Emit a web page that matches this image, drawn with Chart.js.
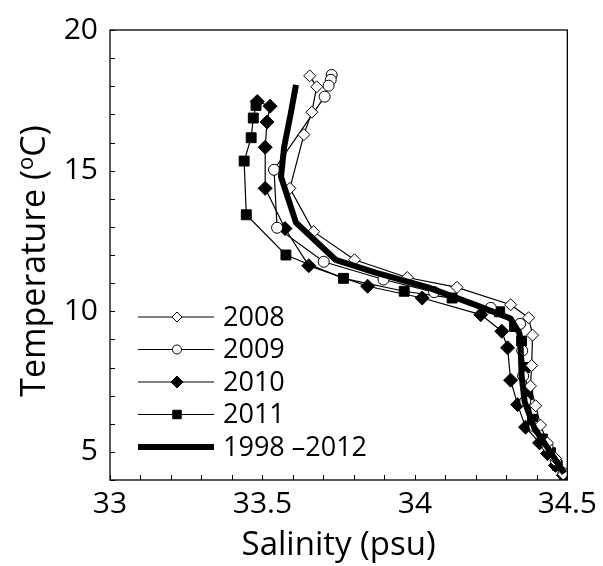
<!DOCTYPE html>
<html>
<head>
<meta charset="utf-8">
<script src="https://cdn.jsdelivr.net/npm/chart.js@4"></script>
<style>
  html, body { margin: 0; padding: 0; background: #fff; }
  #wrap { width: 603px; height: 566px; }
</style>
</head>
<body>
<div id="wrap"><canvas id="tsChart" width="603" height="566"></canvas></div>
<script>
// T-S profiles, salinity (psu) vs temperature (oC)
const sal2008 = [33.655, 33.678, 33.662, 33.636, 33.590, 33.668, 33.802, 33.975, 34.138, 34.314, 34.373, 34.386, 34.383, 34.379, 34.396, 34.412, 34.435, 34.461, 34.487];
const temp2008 = [18.37, 17.98, 17.08, 16.28, 14.37, 12.83, 11.83, 11.20, 10.85, 10.23, 9.77, 9.15, 8.07, 7.34, 6.64, 5.95, 5.32, 4.77, 4.21];

const sal2009 = [33.727, 33.724, 33.717, 33.704, 33.538, 33.548, 33.701, 33.897, 34.063, 34.249, 34.345, 34.352, 34.355, 34.362, 34.392, 34.435, 34.462, 34.487];
const temp2009 = [18.40, 18.23, 18.02, 17.63, 15.03, 12.97, 11.76, 11.13, 10.68, 10.12, 9.55, 8.60, 7.70, 6.80, 5.90, 5.20, 4.70, 4.24];

const sal2010 = [33.483, 33.525, 33.515, 33.509, 33.509, 33.574, 33.652, 33.845, 34.024, 34.216, 34.285, 34.304, 34.314, 34.337, 34.363, 34.409, 34.435, 34.461, 34.487];
const temp2010 = [17.46, 17.29, 16.73, 15.83, 14.37, 12.94, 11.62, 10.89, 10.47, 9.88, 9.29, 8.70, 7.55, 6.68, 5.88, 5.32, 4.94, 4.52, 4.17];

const sal2011 = [33.479, 33.470, 33.463, 33.440, 33.447, 33.577, 33.766, 33.965, 34.122, 34.278, 34.327, 34.350, 34.360, 34.370, 34.386, 34.418, 34.445, 34.467, 34.490];
const temp2011 = [17.32, 16.87, 16.17, 15.34, 13.43, 12.00, 11.17, 10.71, 10.47, 9.98, 9.46, 8.94, 8.00, 7.03, 6.16, 5.46, 4.97, 4.52, 4.14];

const salMean = [33.610, 33.593, 33.571, 33.561, 33.610, 33.740, 33.871, 34.043, 34.207, 34.314, 34.343, 34.347, 34.350, 34.360, 34.392, 34.435, 34.490];
const tempMean = [18.05, 17.04, 15.83, 14.78, 13.15, 11.83, 11.37, 10.85, 10.19, 9.74, 9.22, 8.70, 7.72, 6.78, 5.84, 5.15, 4.24];

const seriesNames = ['2008', '2009', '2010', '2011', '1998 \u20132012'];
const xLabelTicks = [33, 33.5, 34, 34.5];
const yLabelTicks = [5, 10, 15, 20];

const FONT = '"Open Sans", "DejaVu Sans", sans-serif';

function pairs(xs, ys) {
    return xs.map((x, i) => ({ x: x, y: ys[i] }));
}

function isLabelled(value, list) {
    return list.some(v => Math.abs(v - value) < 1e-6);
}

// thin profile lines with markers
function profile(label, sal, temp, style, radius, fill) {
    return {
        label: label,
        data: pairs(sal, temp),
        showLine: true,
        order: 1,
        borderColor: '#000',
        borderWidth: 1.2,
        pointStyle: style,
        pointRadius: radius,
        pointHoverRadius: radius,
        pointBackgroundColor: fill,
        pointBorderColor: '#000',
        pointBorderWidth: 1,
        legendRadius: radius - 1
    };
}

const datasets = [
    profile(seriesNames[0], sal2008, temp2008, 'rectRot', 6, '#fff'),
    profile(seriesNames[1], sal2009, temp2009, 'circle', 5.5, '#fff'),
    profile(seriesNames[2], sal2010, temp2010, 'rectRot', 7, '#000'),
    profile(seriesNames[3], sal2011, temp2011, 'rect', 7, '#000'),
    {
        // long-term mean, drawn over the yearly profiles
        label: seriesNames[4],
        data: pairs(salMean, tempMean),
        showLine: true,
        order: 0,
        borderColor: '#000',
        borderWidth: 6,
        borderJoinStyle: 'round',
        pointRadius: 0,
        pointHoverRadius: 0
    }
];

// box, inward ticks, axis titles and the legend
const frame = {
    id: 'frame',
    afterDraw(chart) {
        const ctx = chart.ctx;
        const a = chart.chartArea;
        const xs = chart.scales.x;
        const ys = chart.scales.y;
        ctx.save();
        ctx.strokeStyle = '#000';
        ctx.lineWidth = 1.3;
        ctx.strokeRect(a.left, a.top, a.right - a.left, a.bottom - a.top);

        ctx.lineWidth = 1;
        ctx.beginPath();
        xs.ticks.forEach(t => {
            const px = Math.round(xs.getPixelForValue(t.value)) + 0.5;
            ctx.moveTo(px, a.bottom);
            ctx.lineTo(px, a.bottom - 5);
        });
        ys.ticks.forEach(t => {
            const py = Math.round(ys.getPixelForValue(t.value)) + 0.5;
            ctx.moveTo(a.left, py);
            ctx.lineTo(a.left + 5, py);
        });
        ctx.stroke();

        // axis titles
        ctx.fillStyle = '#000';
        ctx.textBaseline = 'middle';
        ctx.textAlign = 'center';
        ctx.font = '33px ' + FONT;
        ctx.fillText('Salinity (psu)', (a.left + a.right) / 2, 546);

        ctx.save();
        ctx.translate(35, 261);
        ctx.rotate(-Math.PI / 2);
        const p1 = 'Temperature (', p2 = 'o', p3 = 'C)';
        ctx.font = '34px ' + FONT;
        const w1 = ctx.measureText(p1).width;
        const w3 = ctx.measureText(p3).width;
        ctx.font = '22px ' + FONT;
        const w2 = ctx.measureText(p2).width;
        let sx = -(w1 + w2 + w3) / 2;
        ctx.textAlign = 'left';
        ctx.font = '34px ' + FONT;
        ctx.fillText(p1, sx, 0);
        sx += w1;
        ctx.font = '22px ' + FONT;
        ctx.fillText(p2, sx, -8);
        sx += w2;
        ctx.font = '34px ' + FONT;
        ctx.fillText(p3, sx, 0);
        ctx.restore();

        // legend
        const lx0 = a.left + 28, lx1 = a.left + 104, mx = a.left + 67;
        const rowTop = a.bottom - 163, rowGap = 32.5;
        ctx.font = '27px ' + FONT;
        ctx.textAlign = 'left';
        chart.data.datasets.forEach((ds, i) => {
            const y = rowTop + i * rowGap;
            ctx.beginPath();
            ctx.lineWidth = ds.borderWidth;
            ctx.strokeStyle = '#000';
            ctx.moveTo(lx0, y);
            ctx.lineTo(lx1, y);
            ctx.stroke();
            if (ds.pointRadius > 0) {
                ctx.fillStyle = ds.pointBackgroundColor;
                ctx.strokeStyle = '#000';
                ctx.lineWidth = 1;
                Chart.helpers.drawPoint(ctx, {
                    pointStyle: ds.pointStyle,
                    radius: ds.legendRadius,
                    borderWidth: 1,
                    rotation: 0
                }, mx, y);
            }
            ctx.fillStyle = '#000';
            ctx.fillText(ds.label, lx1 + 9, y + 1);
        });
        ctx.restore();
    }
};

new Chart(document.getElementById('tsChart').getContext('2d'), {
    type: 'scatter',
    data: { datasets: datasets },
    options: {
        responsive: false,
        animation: false,
        events: [],
        layout: { padding: { top: 20, right: 33, left: 0, bottom: 0 } },
        plugins: {
            legend: { display: false },
            tooltip: { enabled: false }
        },
        scales: {
            x: {
                type: 'linear',
                min: 33,
                max: 34.5,
                grid: { drawOnChartArea: false, drawTicks: false },
                border: { display: false },
                ticks: {
                    stepSize: 0.1,
                    autoSkip: false,
                    maxRotation: 0,
                    padding: 6,
                    color: '#000',
                    font: { family: FONT, size: 30 },
                    callback: v => isLabelled(v, xLabelTicks) ? String(Math.round(v * 10) / 10) : ''
                },
                afterFit: s => { s.height = 86; }
            },
            y: {
                type: 'linear',
                min: 4,
                max: 20,
                grid: { drawOnChartArea: false, drawTicks: false },
                border: { display: false },
                ticks: {
                    stepSize: 1,
                    autoSkip: false,
                    padding: 12,
                    color: '#000',
                    font: { family: FONT, size: 30 },
                    callback: v => isLabelled(v, yLabelTicks) ? String(v) : ''
                },
                afterFit: s => { s.width = 110; }
            }
        }
    },
    plugins: [frame]
});
</script>
</body>
</html>
